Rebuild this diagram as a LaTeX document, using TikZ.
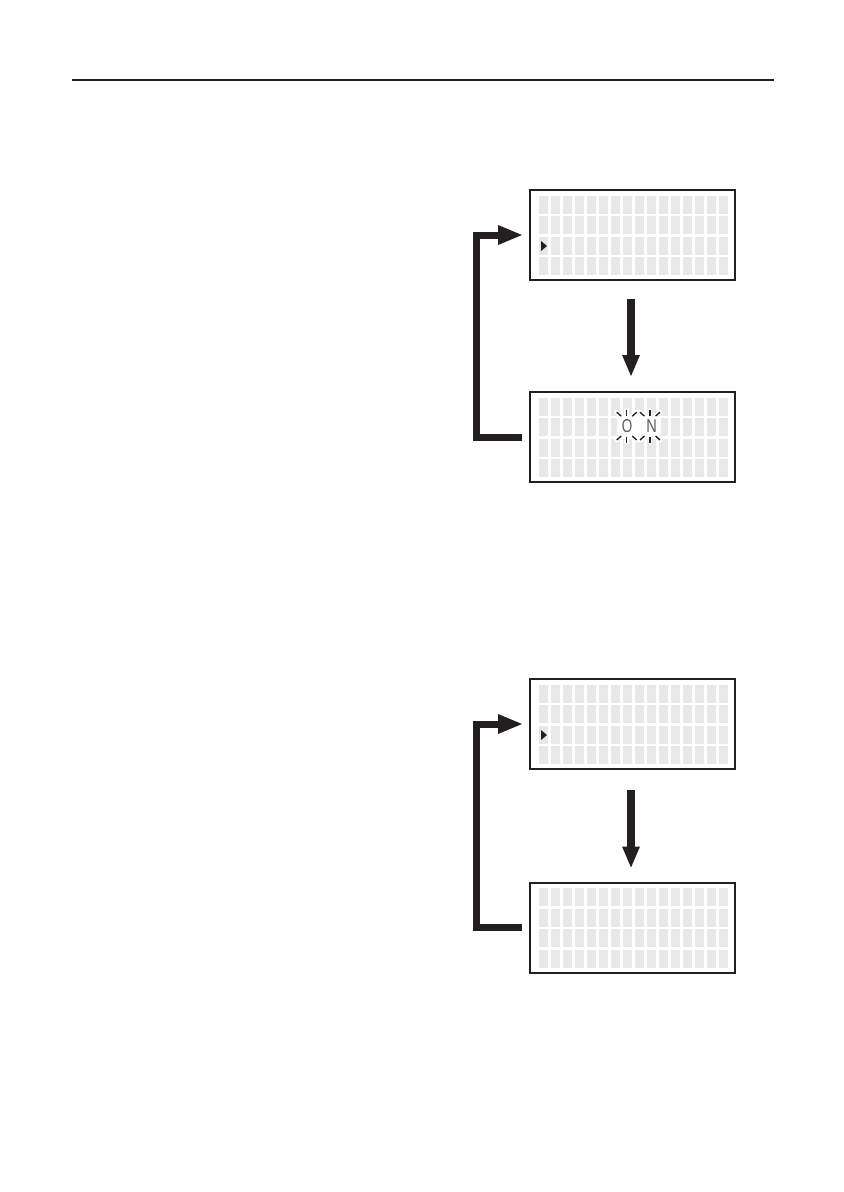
\documentclass[tikz,border=0pt]{standalone}
\usepackage{fontspec}
\setsansfont{Liberation Sans}
\usetikzlibrary{arrows.meta,calc}
\definecolor{ink}{HTML}{231F20}
\definecolor{cellgray}{HTML}{E8E8E8}
\begin{document}
\begin{tikzpicture}[x=0.75pt,y=-0.75pt,
  lcd/.style={draw=ink,line width=1.5pt,fill=white,minimum width=153.75pt,minimum height=67.5pt,inner sep=0pt,outer sep=0pt},
  fb/.style={draw=ink,line width=5.25pt,line join=miter,-{Triangle[length=18pt,width=15pt,line width=0pt]}},
  down/.style={draw=ink,line width=6pt,-{Triangle[length=15.75pt,width=13.5pt,line width=0pt]}},
  lcdchar/.style={text=gray!70!black,font=\sffamily\fontsize{14}{14}\selectfont,inner sep=0pt},
  ray/.style={draw=ink,line width=1pt},
  halo/.style={draw=white,line width=3.5pt,line cap=round}
]
\useasboundingbox (0,0) rectangle (843,1192);
\draw[draw=ink,line width=1.5pt] (72,80) -- (774,80);

% boxes
\node[lcd] (box1) at (632.5,235) {};
\node[lcd] (box2) at (632.5,437) {};
\node[lcd] (box3) at (632.5,724) {};
\node[lcd] (box4) at (632.5,927.5) {};

% cells
\foreach \b in {box1,box2,box3,box4}{
  \foreach \i in {0,...,15}{
    \foreach \j in {0,...,3}{
      \fill[cellgray] ($(\b.north west)+(9+12*\i,5.5+20.5*\j)$) rectangle ++(9.2,18);
    }
  }
}

% cursors
\foreach \b in {box1,box3}{
  \fill[ink] ($(\b.north west)+(11,51)$) -- ++(6,5) -- ++(-6,5) -- cycle;
}

% blinking ON: halo
\fill[white,rounded corners=3pt] (617,415) rectangle (661,437);
\foreach \dx in {0,23.3}{
  \draw[halo] (616.7+\dx,412.2) -- (621.2+\dx,416.2);
  \draw[halo] (626.7+\dx,410) -- (626.7+\dx,416);
  \draw[halo] (632.2+\dx,416.2) -- (636.7+\dx,412.2);
  \draw[halo] (616.7+\dx,440) -- (621.2+\dx,436);
  \draw[halo] (626.7+\dx,436.5) -- (626.7+\dx,442.5);
  \draw[halo] (632.2+\dx,436) -- (636.7+\dx,440);
}
\node[lcdchar] (chO) at (627,426) {\scalebox{0.72}[1]{O}};
\node[lcdchar] (chN) at (651.5,426) {\scalebox{0.78}[1]{N}};
\foreach \dx in {0,23.3}{
  \draw[ray] (616.7+\dx,412.2) -- (621.2+\dx,416.2);
  \draw[ray] (626.7+\dx,410) -- (626.7+\dx,416);
  \draw[ray] (632.2+\dx,416.2) -- (636.7+\dx,412.2);
  \draw[ray] (616.7+\dx,440) -- (621.2+\dx,436);
  \draw[ray] (626.7+\dx,436.5) -- (626.7+\dx,442.5);
  \draw[ray] (632.2+\dx,436) -- (636.7+\dx,440);
}

% connectors
\draw[down] ($(box1.south)+(-1.5,19)$) -- ($(box2.north)+(-1.5,-16)$);
\draw[down] ($(box3.south)+(-1.5,21)$) -- ($(box4.north)+(-1.5,-15)$);
\draw[fb] ($(box2.west)+(-8,0)$) -- ($(box2.west)+(-54,0)$) |- ($(box1.west)+(-8,0)$);
\draw[fb] ($(box4.west)+(-8,0)$) -- ($(box4.west)+(-54,0)$) |- ($(box3.west)+(-8,0)$);
\end{tikzpicture}
\end{document}
